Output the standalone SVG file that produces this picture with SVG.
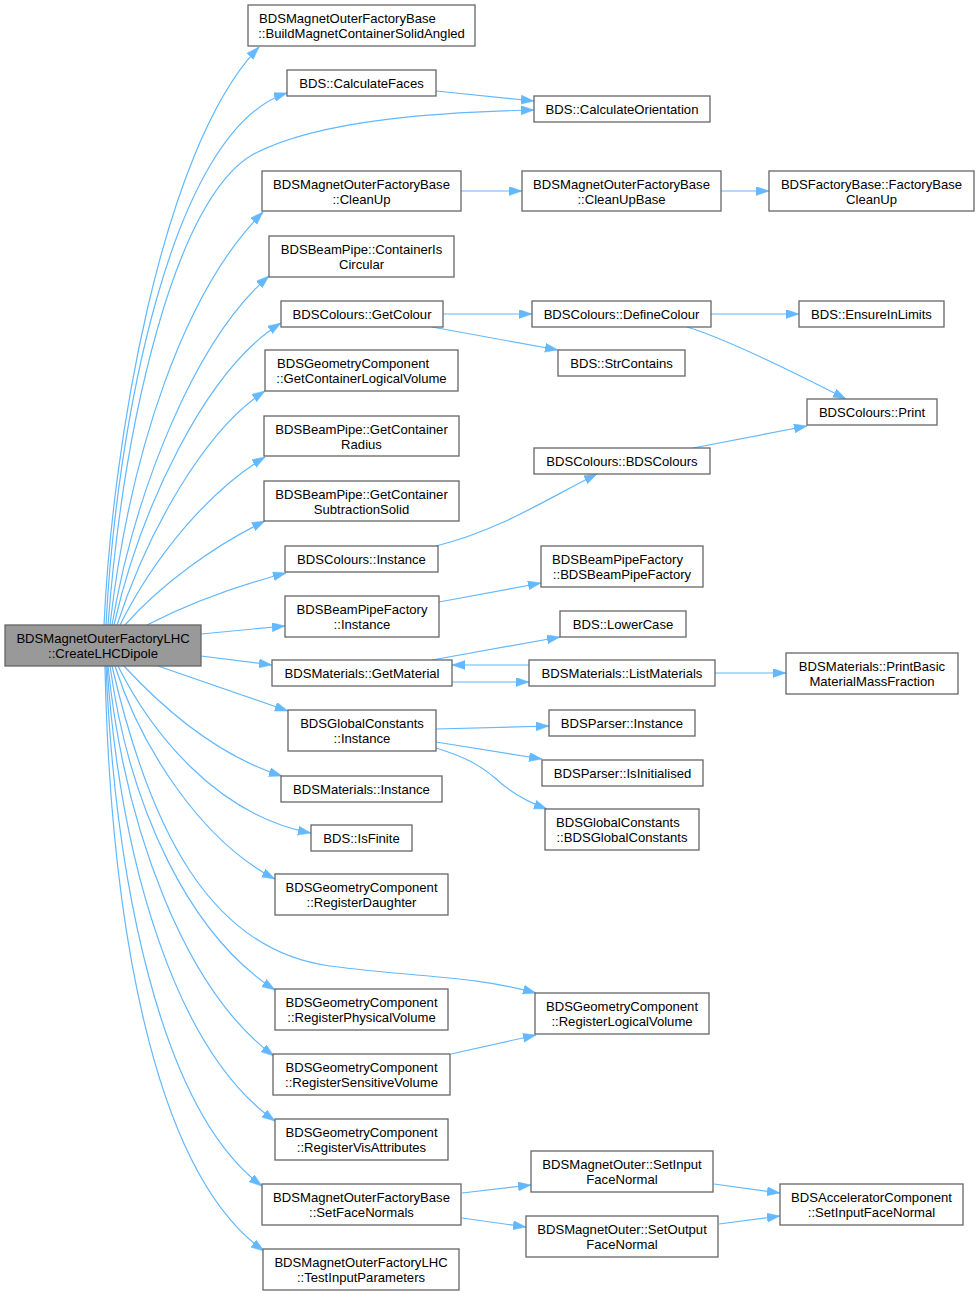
<svg xmlns="http://www.w3.org/2000/svg" width="980" height="1297" viewBox="0 0 980 1297">
<style>
.n rect{fill:#ffffff;stroke:#666666;stroke-width:1.3}
.r rect{fill:#999999;stroke:#666666;stroke-width:1.3}
text{font-family:"Liberation Sans",Arial,Helvetica,sans-serif;font-size:13.1px;fill:#000}
.c{text-anchor:middle}
.s{text-anchor:start}
#edges path{fill:none;stroke:#63b8ff;stroke-width:1.2;marker-end:url(#a)}
</style>
<defs>
<marker id="a" markerUnits="userSpaceOnUse" markerWidth="14" markerHeight="10" refX="13" refY="4.5" orient="auto">
<path d="M0,0 L13,4.5 L0,9 z" fill="#63b8ff" stroke="#63b8ff" stroke-width="0.5"/>
</marker>
</defs>
<rect width="980" height="1297" fill="#ffffff"/>
<g id="edges">
<path d="M104,625 C112,450 160,150 259,47"/>
<path d="M106,625 C116,430 170,130 287,93"/>
<path d="M108,625 C124,420 175,200 252,155 C320,118 450,112 534,110"/>
<path d="M110,625 C130,450 185,290 263,212"/>
<path d="M112,625 C135,490 195,340 269,276"/>
<path d="M114,625 C140,510 205,370 281,323"/>
<path d="M117,625 C148,530 205,430 265,391"/>
<path d="M120,625 C155,555 210,490 265,457"/>
<path d="M125,625 C160,585 215,545 265,521"/>
<path d="M147,625 C190,603 240,585 286,573"/>
<path d="M201,634 L285,626"/>
<path d="M201,656 L272,665"/>
<path d="M158,666 L288,711"/>
<path d="M124,666 C160,705 215,755 282,776"/>
<path d="M118,666 C150,730 215,815 311,833"/>
<path d="M115,666 C140,745 200,840 275,879"/>
<path d="M112,666 C150,830 210,950 330,966 C420,978 470,975 536,993"/>
<path d="M110,666 C130,810 190,935 275,990"/>
<path d="M108,666 C125,830 185,990 274,1056"/>
<path d="M107,666 C120,860 175,1050 275,1121"/>
<path d="M106,666 C115,880 160,1110 262,1186"/>
<path d="M105,666 C110,910 150,1170 264,1251"/>
<path d="M436,91 L534,101"/>
<path d="M461,191 L522,191"/>
<path d="M721,191 L769,191"/>
<path d="M443,314 L532,314"/>
<path d="M432,327 L558,350"/>
<path d="M711,314 L799,314"/>
<path d="M687,327 C720,337 770,360 846,399"/>
<path d="M693,448 L807,426"/>
<path d="M436,546 C500,530 545,500 597,474"/>
<path d="M439,602 L541,583"/>
<path d="M432,660 L560,637"/>
<path d="M529,665 L452,665"/>
<path d="M452,682 L529,682"/>
<path d="M715,673 L786,673"/>
<path d="M436,729 L549,726"/>
<path d="M436,742 L542,759"/>
<path d="M436,748 C465,757 480,765 495,778 C510,792 525,801 547,809"/>
<path d="M451,1054 L536,1035"/>
<path d="M462,1193 L531,1185"/>
<path d="M462,1218 L526,1227"/>
<path d="M714,1184 L780,1193"/>
<path d="M719,1224 L780,1216"/>
</g>
<g id="root" class="r"><rect x="5" y="625" width="196" height="41"/><text class="c" x="103" y="643">BDSMagnetOuterFactoryLHC</text><text class="c" x="103" y="658">::CreateLHCDipole</text></g>
<g id="n2" class="n"><rect x="248" y="5" width="227" height="41"/><text class="s" x="259" y="23">BDSMagnetOuterFactoryBase</text><text class="c" x="361.5" y="38">::BuildMagnetContainerSolidAngled</text></g>
<g id="n3" class="n"><rect x="287" y="70" width="149" height="26"/><text class="c" x="361.5" y="88">BDS::CalculateFaces</text></g>
<g id="n4" class="n"><rect x="534" y="96" width="176" height="26"/><text class="c" x="622" y="114">BDS::CalculateOrientation</text></g>
<g id="n5" class="n"><rect x="262" y="171" width="199" height="40"/><text class="c" x="361.5" y="189">BDSMagnetOuterFactoryBase</text><text class="c" x="361.5" y="204">::CleanUp</text></g>
<g id="n6" class="n"><rect x="522" y="171" width="199" height="40"/><text class="c" x="621.5" y="189">BDSMagnetOuterFactoryBase</text><text class="c" x="621.5" y="204">::CleanUpBase</text></g>
<g id="n7" class="n"><rect x="769" y="171" width="205" height="40"/><text class="c" x="871.5" y="189">BDSFactoryBase::FactoryBase</text><text class="c" x="871.5" y="204">CleanUp</text></g>
<g id="n8" class="n"><rect x="269" y="236" width="185" height="41"/><text class="c" x="361.5" y="254">BDSBeamPipe::ContainerIs</text><text class="c" x="361.5" y="269">Circular</text></g>
<g id="n9" class="n"><rect x="281" y="301" width="162" height="26"/><text class="c" x="362" y="319">BDSColours::GetColour</text></g>
<g id="n10" class="n"><rect x="532" y="301" width="179" height="26"/><text class="c" x="621.5" y="319">BDSColours::DefineColour</text></g>
<g id="n11" class="n"><rect x="799" y="301" width="145" height="26"/><text class="c" x="871.5" y="319">BDS::EnsureInLimits</text></g>
<g id="n12" class="n"><rect x="558" y="350" width="127" height="26"/><text class="c" x="621.5" y="368">BDS::StrContains</text></g>
<g id="n13" class="n"><rect x="807" y="399" width="130" height="26"/><text class="c" x="872" y="417">BDSColours::Print</text></g>
<g id="n14" class="n"><rect x="265" y="350" width="193" height="41"/><text class="s" x="277" y="368">BDSGeometryComponent</text><text class="c" x="361.5" y="383">::GetContainerLogicalVolume</text></g>
<g id="n15" class="n"><rect x="264" y="416" width="195" height="40"/><text class="c" x="361.5" y="434">BDSBeamPipe::GetContainer</text><text class="c" x="361.5" y="449">Radius</text></g>
<g id="n16" class="n"><rect x="534" y="448" width="176" height="26"/><text class="c" x="622" y="466">BDSColours::BDSColours</text></g>
<g id="n17" class="n"><rect x="264" y="481" width="195" height="40"/><text class="c" x="361.5" y="499">BDSBeamPipe::GetContainer</text><text class="c" x="361.5" y="514">SubtractionSolid</text></g>
<g id="n18" class="n"><rect x="285" y="546" width="153" height="26"/><text class="c" x="361.5" y="564">BDSColours::Instance</text></g>
<g id="n19" class="n"><rect x="541" y="546" width="162" height="41"/><text class="s" x="552" y="564">BDSBeamPipeFactory</text><text class="c" x="622" y="579">::BDSBeamPipeFactory</text></g>
<g id="n20" class="n"><rect x="285" y="596" width="154" height="41"/><text class="c" x="362" y="614">BDSBeamPipeFactory</text><text class="c" x="362" y="629">::Instance</text></g>
<g id="n21" class="n"><rect x="560" y="611" width="126" height="26"/><text class="c" x="623" y="629">BDS::LowerCase</text></g>
<g id="n22" class="n"><rect x="272" y="660" width="180" height="26"/><text class="c" x="362" y="678">BDSMaterials::GetMaterial</text></g>
<g id="n23" class="n"><rect x="529" y="660" width="186" height="26"/><text class="c" x="622" y="678">BDSMaterials::ListMaterials</text></g>
<g id="n24" class="n"><rect x="786" y="653" width="172" height="41"/><text class="c" x="872" y="671">BDSMaterials::PrintBasic</text><text class="c" x="872" y="686">MaterialMassFraction</text></g>
<g id="n25" class="n"><rect x="288" y="710" width="148" height="41"/><text class="c" x="362" y="728">BDSGlobalConstants</text><text class="c" x="362" y="743">::Instance</text></g>
<g id="n26" class="n"><rect x="549" y="710" width="146" height="26"/><text class="c" x="622" y="728">BDSParser::Instance</text></g>
<g id="n27" class="n"><rect x="542" y="760" width="161" height="26"/><text class="c" x="622.5" y="778">BDSParser::IsInitialised</text></g>
<g id="n28" class="n"><rect x="545" y="809" width="154" height="41"/><text class="s" x="556" y="827">BDSGlobalConstants</text><text class="c" x="622" y="842">::BDSGlobalConstants</text></g>
<g id="n29" class="n"><rect x="281" y="776" width="161" height="26"/><text class="c" x="361.5" y="794">BDSMaterials::Instance</text></g>
<g id="n30" class="n"><rect x="311" y="825" width="101" height="26"/><text class="c" x="361.5" y="843">BDS::IsFinite</text></g>
<g id="n31" class="n"><rect x="275" y="874" width="173" height="41"/><text class="c" x="361.5" y="892">BDSGeometryComponent</text><text class="c" x="361.5" y="907">::RegisterDaughter</text></g>
<g id="n32" class="n"><rect x="275" y="989" width="173" height="41"/><text class="c" x="361.5" y="1007">BDSGeometryComponent</text><text class="c" x="361.5" y="1022">::RegisterPhysicalVolume</text></g>
<g id="n33" class="n"><rect x="535" y="993" width="174" height="41"/><text class="c" x="622" y="1011">BDSGeometryComponent</text><text class="c" x="622" y="1026">::RegisterLogicalVolume</text></g>
<g id="n34" class="n"><rect x="273" y="1054" width="177" height="41"/><text class="c" x="361.5" y="1072">BDSGeometryComponent</text><text class="c" x="361.5" y="1087">::RegisterSensitiveVolume</text></g>
<g id="n35" class="n"><rect x="275" y="1119" width="173" height="41"/><text class="c" x="361.5" y="1137">BDSGeometryComponent</text><text class="c" x="361.5" y="1152">::RegisterVisAttributes</text></g>
<g id="n36" class="n"><rect x="262" y="1184" width="199" height="41"/><text class="c" x="361.5" y="1202">BDSMagnetOuterFactoryBase</text><text class="c" x="361.5" y="1217">::SetFaceNormals</text></g>
<g id="n37" class="n"><rect x="531" y="1151" width="182" height="41"/><text class="c" x="622" y="1169">BDSMagnetOuter::SetInput</text><text class="c" x="622" y="1184">FaceNormal</text></g>
<g id="n38" class="n"><rect x="526" y="1216" width="192" height="41"/><text class="c" x="622" y="1234">BDSMagnetOuter::SetOutput</text><text class="c" x="622" y="1249">FaceNormal</text></g>
<g id="n39" class="n"><rect x="780" y="1184" width="183" height="41"/><text class="c" x="871.5" y="1202">BDSAcceleratorComponent</text><text class="c" x="871.5" y="1217">::SetInputFaceNormal</text></g>
<g id="n40" class="n"><rect x="263" y="1249" width="196" height="41"/><text class="c" x="361" y="1267">BDSMagnetOuterFactoryLHC</text><text class="c" x="361" y="1282">::TestInputParameters</text></g>
</svg>
